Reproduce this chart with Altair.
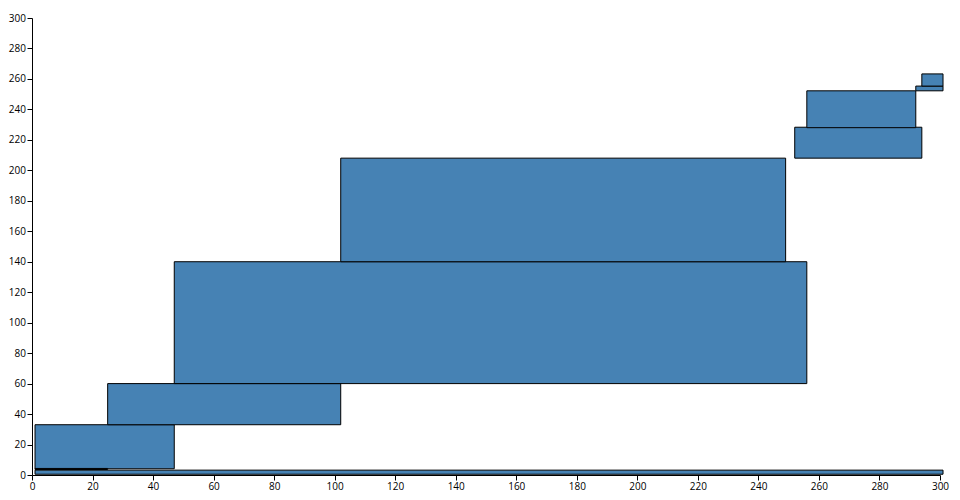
import altair as alt
import pandas as pd

x0 = [1, 1, 1, 25, 47, 102, 252, 256, 292, 294]
x1 = [301, 47, 25, 102, 256, 249, 294, 292, 301, 301]
y0 = [0.5, 4.1, 3.6, 33, 60, 140, 208, 228, 252.2, 255.3]
y1 = [3.2, 33, 4.3, 60, 140, 208, 228.3, 252.2, 255.3, 263.3]

df = pd.DataFrame({"x": x0, "x2": x1, "y": y0, "y2": y1})

ax = dict(title=None, grid=False, values=list(range(0, 301, 20)),
          labelFontSize=10, labelFont="Open Sans", domainColor="black",
          tickColor="black", labelColor="black", tickSize=5, labelPadding=1.5,
          labelFlush=False, labelOverlap=False)

chart = alt.Chart(df).mark_rect(fill="steelblue", stroke="black", strokeWidth=1).encode(
    x=alt.X("x:Q", scale=alt.Scale(domain=[0, 300], nice=False), axis=alt.Axis(**ax)),
    x2="x2:Q",
    y=alt.Y("y:Q", scale=alt.Scale(domain=[0, 300], nice=False), axis=alt.Axis(**ax)),
    y2="y2:Q",
).properties(
    width=908, height=457,
    autosize=alt.AutoSizeParams(type="none"),
    padding={"left": 24, "top": 10, "right": 10, "bottom": 17},
).configure_view(stroke=None)

chart.save("out.html", embed_options={"renderer": "svg", "actions": False})
